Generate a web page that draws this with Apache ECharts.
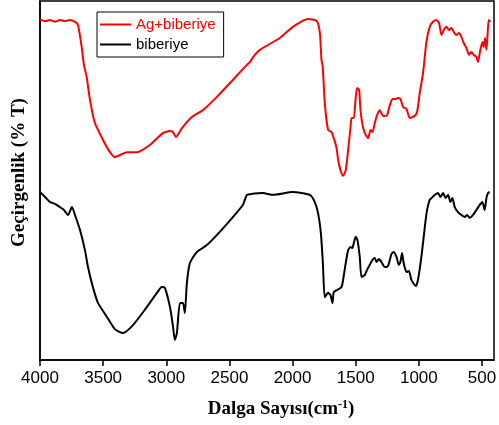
<!DOCTYPE html>
<html><head><meta charset="utf-8">
<script src="https://cdn.jsdelivr.net/npm/echarts@6/dist/echarts.min.js"></script>
<style>html,body{margin:0;padding:0;background:#fff}#c{width:499px;height:425px}</style>
</head><body><div id="c"></div>
<script>
// Wavenumbers (cm-1) and transmittance (arbitrary %T)
const redWn = [4000,3960,3921,3881,3842,3802,3763,3723,3699,3670,3652,3630,3604,3565,3501,3446,3407,3367,3312,3232,3130,3027,2971,2947,2924,2876,2797,2710,2599,2473,2362,2338,2299,2259,2101,1998,1879,1808,1784,1771,1761,1745,1719,1692,1674,1652,1639,1621,1600,1579,1560,1541,1533,1515,1502,1489,1473,1462,1446,1428,1402,1383,1367,1349,1331,1310,1283,1252,1230,1209,1183,1165,1146,1125,1098,1072,1033,1014,993,967,940,914,888,861,840,821,803,782,761,742,724,703,682,663,645,623,603,584,566,544,532,513,497,487,476,465,455,447,434];
const redT  = [94.9,94.4,94.7,94.2,94.7,94.4,94.7,94.2,93.3,87.2,82.2,78.8,72.4,66.0,61.3,57.9,56.5,57.1,57.9,57.9,59.9,63.2,63.8,63.5,62.1,64.6,67.7,69.6,73.3,78.0,82.2,83.0,85.0,86.4,89.7,92.8,95.0,94.4,91.1,83.6,81.6,71.6,64.1,63.5,61.8,59.1,55.7,52.9,51.3,52.9,58.5,64.9,67.4,67.4,72.4,75.8,75.2,69.6,65.5,63.2,61.8,64.1,63.5,66.0,68.2,69.6,68.0,68.2,71.0,72.7,72.7,73.0,72.7,70.5,69.9,67.4,68.0,69.1,74.4,79.9,88.6,92.8,94.2,94.7,93.9,90.5,91.9,92.8,91.9,92.5,91.4,90.5,91.1,90.0,88.3,86.9,85.0,85.8,85.0,84.4,83.0,86.4,88.6,87.2,89.7,86.4,91.1,94.7,94.2];
const blackWn = [4000,3960,3921,3881,3842,3810,3778,3747,3723,3683,3644,3620,3581,3541,3470,3407,3343,3264,3153,3074,3035,3011,2971,2948,2932,2916,2892,2868,2853,2837,2813,2758,2679,2576,2473,2394,2362,2338,2235,2156,1998,1863,1824,1798,1776,1760,1745,1719,1700,1684,1674,1647,1613,1600,1579,1560,1541,1526,1515,1500,1486,1468,1454,1428,1410,1389,1367,1349,1335,1317,1296,1270,1244,1217,1199,1177,1159,1146,1133,1120,1098,1078,1059,1025,1007,980,953,935,914,900,874,848,829,808,787,769,750,734,716,690,663,637,619,597,571,544,518,497,479,465,452,439];
const blackT  = [46.8,45.4,44.0,43.5,42.6,41.8,40.4,42.6,40.4,36.2,30.6,25.9,20.3,15.9,12.0,8.6,7.5,9.7,14.8,18.7,20.3,20.1,14.8,9.7,5.6,7.5,15.9,15.9,13.1,21.4,27.0,30.1,32.0,35.7,39.8,43.2,46.0,46.2,46.5,46.0,46.8,46.0,44.0,40.9,35.4,27.0,17.5,18.7,18.1,15.9,18.9,19.5,20.3,22.3,27.0,30.6,31.5,31.2,32.6,34.3,33.4,28.7,23.1,23.7,25.1,26.5,27.9,28.4,27.3,28.1,27.3,25.9,26.2,29.5,30.1,28.7,26.5,27.3,29.8,27.0,24.5,24.8,22.3,20.6,22.3,28.7,37.0,41.8,44.6,45.1,46.0,46.5,45.4,46.5,45.1,46.0,44.0,45.1,42.6,41.2,40.4,39.8,40.4,39.6,40.4,41.8,43.2,44.0,41.8,45.1,46.5,46.8];
const xTicks = [4000,3500,3000,2500,2000,1500,1000,500];
const seriesNames = ['Ag+biberiye','biberiye'];

const pairs = (xs, ys) => xs.map((x, i) => [x, ys[i]]);
const chart = echarts.init(document.getElementById('c'), null, {renderer:'canvas'});
chart.setOption({
  animation:false,
  backgroundColor:'#fff',
  grid:{left:40, right:5, top:1, bottom:65, show:true, borderColor:'#000', borderWidth:1.5, backgroundColor:'transparent', containLabel:false, outerBoundsMode:'none'},
  legend:{
    orient:'vertical', left:97, top:12,
    padding:[5,8,5,3], itemGap:5, itemWidth:31, itemHeight:2, icon:'rect',
    borderColor:'#000', borderWidth:1,
    textStyle:{fontFamily:'Liberation Sans, Arial', fontSize:15},
    data:[{name:seriesNames[0], textStyle:{color:'#ff0000'}},{name:seriesNames[1], textStyle:{color:'#000'}}]
  },
  xAxis:{
    type:'value', inverse:true, min:405, max:4000,
    axisLine:{show:true, lineStyle:{color:'#000', width:1.5}},
    axisTick:{show:true, inside:false, length:6, lineStyle:{color:'#000', width:1.5}, customValues:xTicks},
    axisLabel:{show:true, margin:10, color:'#000', fontFamily:'Liberation Sans, Arial', fontSize:17, customValues:xTicks, formatter:(v)=>String(v)},
    splitLine:{show:false},
    name:'Dalga Sayısı(cm{sup|-1})', nameLocation:'middle', nameGap:39,
    nameTextStyle:{fontFamily:'Liberation Serif, Times New Roman', fontWeight:'bold', fontSize:19, color:'#000', padding:[0,0,0,28],
      rich:{sup:{fontFamily:'Liberation Serif', fontWeight:'bold', fontSize:12, verticalAlign:'top', padding:[0,0,8,0], color:'#000'}}}
  },
  yAxis:{
    type:'value', min:0, max:100,
    axisLine:{show:true, lineStyle:{color:'#000', width:1.5}},
    axisTick:{show:false}, axisLabel:{show:false}, splitLine:{show:false},
    name:'Geçirgenlik (% T)', nameLocation:'middle', nameGap:11,
    nameTextStyle:{fontFamily:'Liberation Serif, Times New Roman', fontWeight:'bold', fontSize:19, color:'#000', padding:[0,0,0,16]}
  },
  series:[
    {name:seriesNames[0], type:'line', data:pairs(redWn, redT), symbol:'none', smooth:0.2, lineStyle:{color:'#ff0000', width:2}, itemStyle:{color:'#ff0000'}},
    {name:seriesNames[1], type:'line', data:pairs(blackWn, blackT), symbol:'none', smooth:0.2, lineStyle:{color:'#000', width:2}, itemStyle:{color:'#000'}}
  ]
});
</script></body></html>
